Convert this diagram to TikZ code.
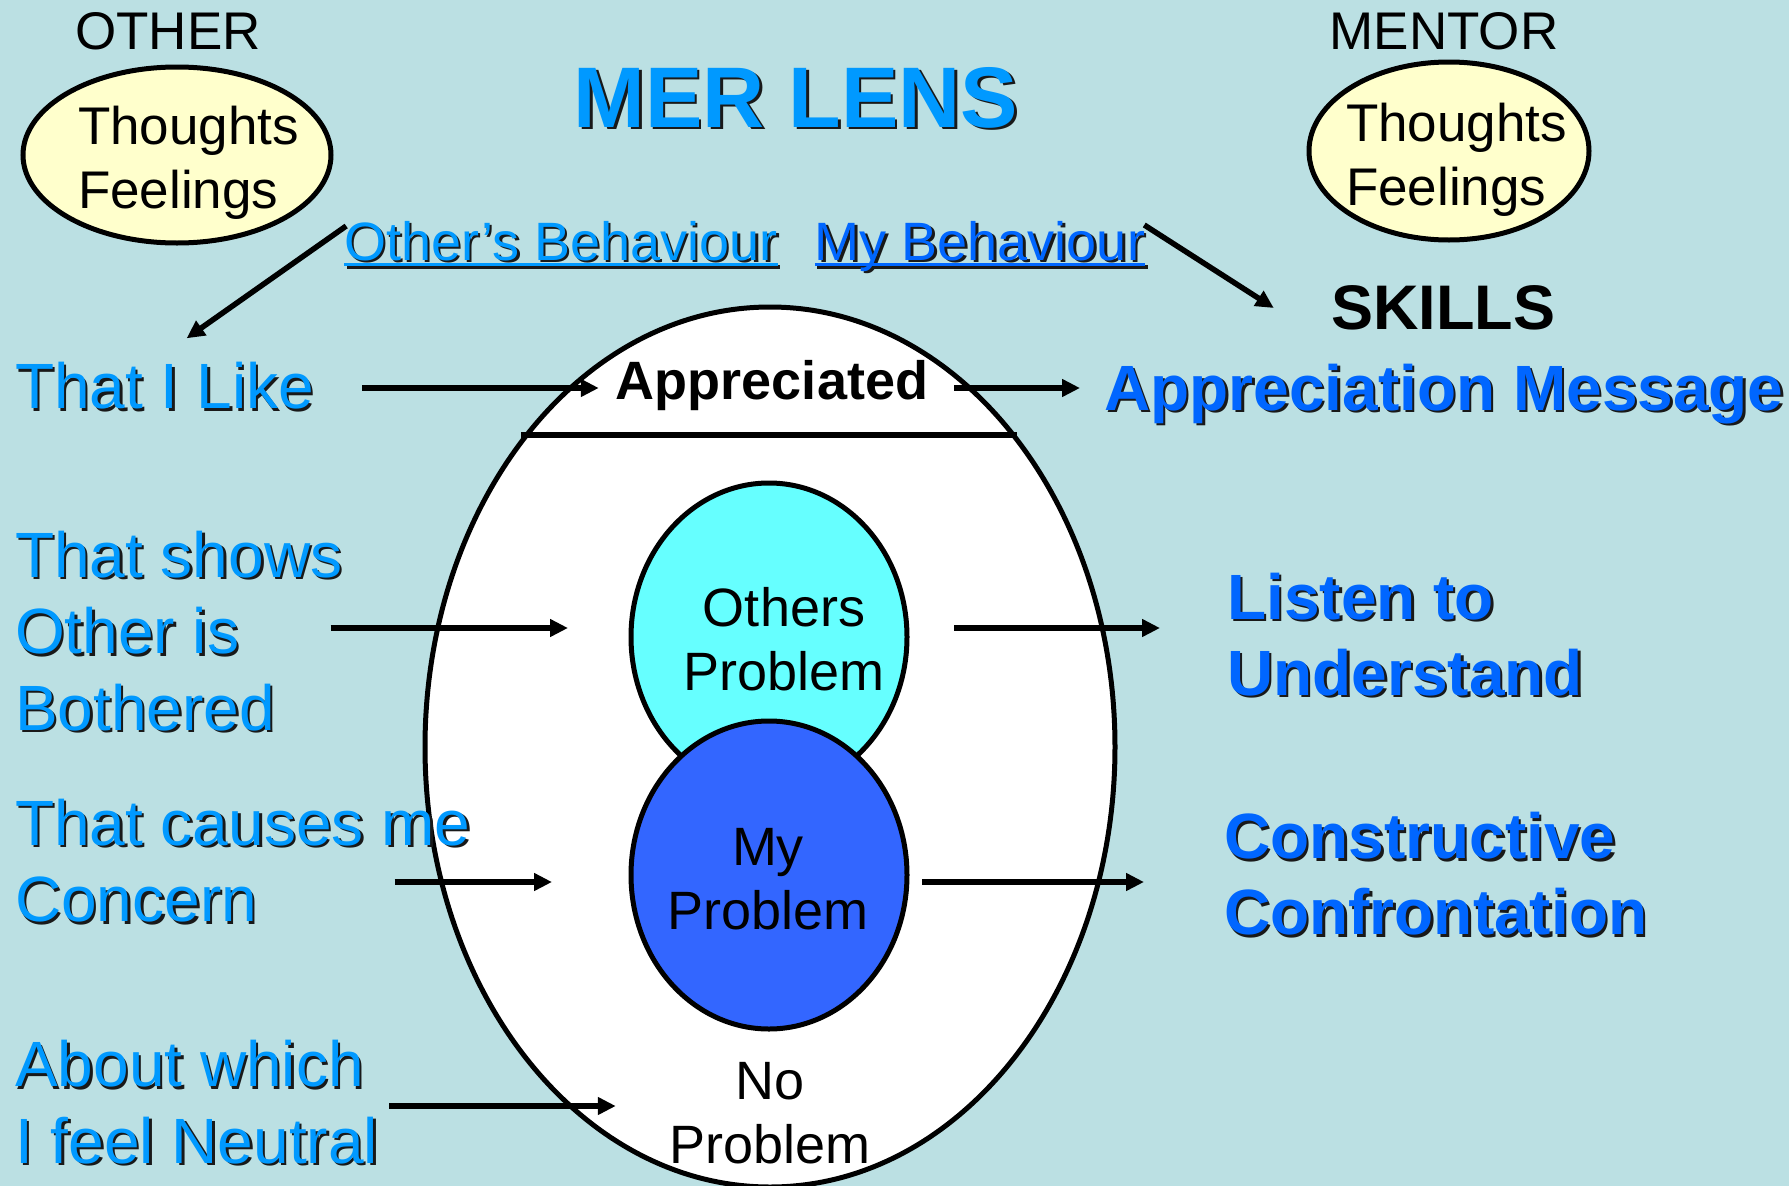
\documentclass[tikz,border=0pt]{standalone}
\usepackage{fontspec}
\setmainfont{Liberation Sans}
\usetikzlibrary{shapes.geometric, arrows.meta, positioning}

\definecolor{slidebg}{RGB}{187,224,227}
\definecolor{skyblue}{RGB}{0,153,255}
\definecolor{deepblue}{RGB}{0,102,255}
\definecolor{cream}{RGB}{255,255,204}
\definecolor{lightcyan}{RGB}{102,255,255}
\definecolor{royal}{RGB}{51,102,255}
\definecolor{dropshadow}{RGB}{25,25,25}

% text with a small dark drop shadow
\newcommand{\shadowed}[2]{\rlap{\smash{\kern2.5pt\raisebox{-2.5pt}{\color{dropshadow}#2}}}\textcolor{#1}{#2}}
\newcommand{\sky}[1]{\shadowed{skyblue}{#1}}
\newcommand{\deep}[1]{\shadowed{deepblue}{#1}}
% thick underline
\newcommand{\ulined}[1]{\setbox0=\hbox{#1}\rlap{\smash{\rule[-6pt]{\wd0}{3.5pt}}}\box0}

\begin{document}
\begin{tikzpicture}[
    x = 1pt, y = -1pt,
    bubble/.style = {ellipse, draw, line width=5pt, inner sep=0pt, outer sep=0pt},
    arrow/.style = {line width=5.5pt, -{Triangle[length=18pt, width=17pt]}},
    lbl/.style = {inner sep=0pt, align=left, anchor=west, font=\fontsize{64}{76.5}\selectfont},
    skill/.style = {inner sep=0pt, align=left, anchor=west, font=\bfseries\fontsize{64}{76}\selectfont},
    inner/.style = {inner sep=0pt, align=center, font=\fontsize{54}{64}\selectfont},
    thought/.style = {inner sep=0pt, align=left, font=\fontsize{53}{64}\selectfont}
]
    \path[use as bounding box, fill=slidebg] (0,0) rectangle (1789,1186);

    % Lens and its regions
    \node (lens) [bubble, fill=white, minimum width=690pt, minimum height=880pt] at (770,747) {};
    \draw [line width=5.5pt] ([shift={(-249,-312)}]lens.center) -- ([shift={(247,-312)}]lens.center);
    \node (othersp) [bubble, fill=lightcyan, minimum width=276pt, minimum height=308pt] at (769,637) {};
    \node (mine) [bubble, fill=royal, minimum width=276pt, minimum height=308pt] at (769,875) {};

    % Thought bubbles
    \node (otherbub) [bubble, fill=cream, minimum width=308pt, minimum height=176pt] at (177,155) {};
    \node (mentorbub) [bubble, fill=cream, minimum width=280pt, minimum height=178pt] at (1449,151) {};
    \node (othertag) [inner sep=0pt, font=\fontsize{53}{64}\selectfont] at (168,31) {OTHER};
    \node (mentortag) [inner sep=0pt, font=\fontsize{53}{64}\selectfont] at (1444,31) {MENTOR};
    \node (otherthink) [thought] at (188.5,162.5) {Thoughts\\Feelings};
    \node (mentorthink) [thought] at (1456.5,159.5) {Thoughts\\Feelings};

    % Headings
    \node (title) [inner sep=0pt, font=\bfseries\fontsize{86}{96}\selectfont] at (796,97.5) {\sky{MER LENS}};
    \node (obeh) [inner sep=0pt, anchor=base, font=\fontsize{54}{64}\selectfont] at (561,260) {\sky{\ulined{Other’s Behaviour}}};
    \node (mybeh) [inner sep=0pt, anchor=base, font=\fontsize{54}{64}\selectfont] at (980,260) {\deep{\ulined{My Behaviour}}};
    \node (skills) [inner sep=0pt, font=\bfseries\fontsize{63}{72}\selectfont] at (1443,308) {SKILLS};

    % Behaviour kinds
    \node (like) [lbl] at (15,386) {\sky{That I Like}};
    \node (shows) [lbl] at (15,631) {\sky{That shows}\\\sky{Other is}\\\sky{Bothered}};
    \node (causes) [lbl] at (15,860.5) {\sky{That causes me}\\\sky{Concern}};
    \node (neutral) [lbl] at (15,1102) {\sky{About which}\\\sky{I feel Neutral}};

    % Inside the lens
    \node (appr) [inner sep=0pt, font=\bfseries\fontsize{54}{64}\selectfont] at (772,385.3) {Appreciated};
    \node (otherstxt) [inner] at (784,639.5) {Others\\Problem};
    \node (minetxt) [inner] at (768,879.5) {My\\Problem};
    \node (noprob) [inner] at (770,1112.7) {No\\Problem};

    % Skills
    \node (apmsg) [skill] at (1104,393.8) {\deep{Appreciation Message}};
    \node (listen) [skill] at (1227,634.5) {\deep{Listen to}\\\deep{Understand}};
    \node (confront) [skill] at (1224,874) {\deep{Constructive}\\\deep{Confrontation}};

    % Arrows
    \draw [arrow] ([shift={(2,-34)}]obeh.base west) -- ([shift={(22,-24)}]like.north);
    \draw [arrow] ([shift={(-1,-35)}]mybeh.base east) -- ([xshift=-57pt]skills.west);
    \draw [arrow] ([shift={(48,2)}]like.east) -- ([shift={(-17,2.7)}]appr.west);
    \draw [arrow] ([shift={(26,2.7)}]appr.east) -- ([shift={(-24,-5.8)}]apmsg.west);
    \draw [arrow] ([shift={(-12,-3)}]shows.east) -- ([shift={(-63,-9)}]othersp.west);
    \draw [arrow] ([shift={(-76,21.5)}]causes.east) -- ([shift={(-79,7)}]mine.west);
    \draw [arrow] ([shift={(11,4)}]neutral.east) -- ([shift={(-53.5,-6.7)}]noprob.west);
    \draw [arrow] ([shift={(47,-9)}]othersp.east) -- ([shift={(-67,-6.5)}]listen.west);
    \draw [arrow] ([shift={(15,7)}]mine.east) -- ([shift={(-80,8)}]confront.west);

\end{tikzpicture}
\end{document}
